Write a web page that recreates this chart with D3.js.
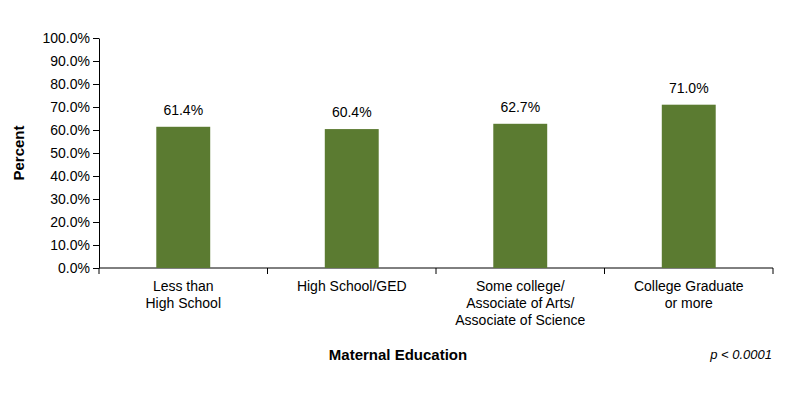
<!DOCTYPE html>
<html><head><script src="https://cdn.jsdelivr.net/npm/d3@7"></script>
<style>body{margin:0;background:#fff;font-family:Arial,"Liberation Sans",sans-serif}</style></head>
<body><svg id="c" width="800" height="400"></svg>
<script>
const categories=[["Less than","High School"],["High School/GED"],["Some college/","Associate of Arts/","Associate of Science"],["College Graduate","or more"]];
const values=[61.4,60.4,62.7,71.0];
const yTicks=[0,10,20,30,40,50,60,70,80,90,100];
const svg=d3.select("#c");
const x=d3.scaleBand().domain(d3.range(4)).range([99,773]).paddingInner(0.68).paddingOuter(0.34);
const y=d3.scaleLinear().domain([0,100]).range([268,38]);
const ya=svg.append("g").attr("transform","translate(99,0)").call(d3.axisLeft(y).tickValues(yTicks).tickFormat(d=>d.toFixed(1)+"%").tickSizeOuter(0));
ya.selectAll("text").attr("font-size",14).attr("fill","#000").attr("font-family","Arial,Liberation Sans");
ya.selectAll("line,path").attr("stroke","#000");
const xa=svg.append("g").attr("transform","translate(0,268)");
xa.append("line").attr("x1",99).attr("x2",773).attr("stroke","#000");
const step=x.step();
[0,1,2,3,4].forEach(i=>xa.append("line").attr("x1",99+i*step*1.0).attr("x2",99+i*step).attr("y2",6).attr("stroke","#000"));
svg.selectAll("rect.b").data(values).enter().append("rect").attr("x",(d,i)=>x(i)).attr("width",x.bandwidth())
 .attr("y",d=>y(d)).attr("height",d=>268-y(d)).attr("fill","#5b7b31");
svg.selectAll("text.v").data(values).enter().append("text").attr("x",(d,i)=>x(i)+x.bandwidth()/2).attr("y",d=>y(d)-12)
 .attr("text-anchor","middle").attr("font-size",14).text(d=>d.toFixed(1)+"%");
categories.forEach((c,i)=>{const t=svg.append("text").attr("text-anchor","middle").attr("font-size",14);
 c.forEach((l,j)=>t.append("tspan").attr("x",x(i)+x.bandwidth()/2).attr("y",291+j*17).text(l));});
svg.append("text").attr("transform","translate(24,153) rotate(-90)").attr("text-anchor","middle").attr("font-size",15).attr("font-weight","bold").text("Percent");
svg.append("text").attr("x",398).attr("y",360).attr("text-anchor","middle").attr("font-size",15).attr("font-weight","bold").text("Maternal Education");
svg.append("text").attr("x",772).attr("y",359).attr("text-anchor","end").attr("font-size",13).attr("font-style","italic").text("p < 0.0001");
</script></body></html>
